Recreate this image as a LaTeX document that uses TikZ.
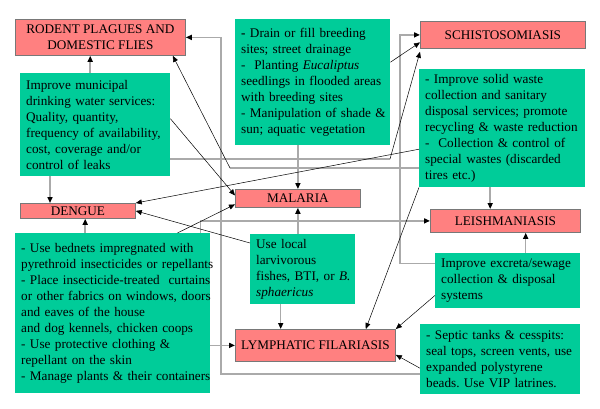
\documentclass[tikz,border=0pt]{standalone}
\usepackage{fontspec}
\setmainfont{Liberation Serif}
\usetikzlibrary{arrows.meta}
\definecolor{pinkbox}{RGB}{255,128,128}
\definecolor{greenbox}{RGB}{0,204,153}
\definecolor{boxline}{RGB}{120,120,120}
\definecolor{linkgray}{RGB}{170,170,170}
\begin{document}
\begin{tikzpicture}[x=1pt,y=-1pt,
    disease/.style={draw=boxline,line width=0.8pt,fill=pinkbox,anchor=north west,inner sep=0pt,
      align=center,font=\fontsize{13.2}{15.5}\selectfont},
    action/.style={fill=greenbox,anchor=north west,inner xsep=6pt,inner ysep=0pt,align=left,
      font=\fontsize{13.2}{16}\selectfont},
    glink/.style={draw=linkgray,line width=1.5pt},
    garrow/.style={glink,-{Triangle[length=6pt,width=5pt,color=black]}},
    tarrow/.style={draw=black,line width=0.5pt,-{Triangle[length=6pt,width=5pt]}}]
\useasboundingbox (0,0) rectangle (600,408);
% diseases
\node[disease,minimum width=170pt,minimum height=36pt] (rodent) at (15,19) {RODENT PLAGUES AND\\DOMESTIC FLIES};
\node[disease,minimum width=165pt,minimum height=27pt] (schisto) at (420,21) {SCHISTOSOMIASIS};
\node[disease,minimum width=115pt,minimum height=15pt] (dengue) at (20,203) {DENGUE};
\node[disease,minimum width=125pt,minimum height=18pt] (malaria) at (235,189) {MALARIA};
\node[disease,minimum width=150pt,minimum height=23pt] (leish) at (430,209) {LEISHMANIASIS};
\node[disease,minimum width=160pt,minimum height=32pt] (filaria) at (235,329) {LYMPHATIC FILARIASIS};
% interventions
\node[action,text width=138pt,minimum height=103pt] (water) at (20,73) {Improve municipal\\drinking water services:\\Quality, quantity,\\frequency of availability,\\cost, coverage and/or\\control of leaks};
\node[action,text width=143pt,minimum height=126pt] (drain) at (235,19) {\textbf{-} Drain or fill breeding\\sites; street drainage\\-\ \ Planting \textit{Eucaliptus}\\\mbox{seedlings in flooded areas}\\with breeding sites\\\mbox{- Manipulation of shade \&}\\sun; aquatic vegetation};
\node[action,text width=154pt,minimum height=118pt] (waste) at (419,69) {- Improve solid waste\\collection and sanitary\\\mbox{disposal services; promote}\\\mbox{recycling \& waste reduction}\\-\ \ Collection \& control of\\special wastes (discarded\\tires etc.)};
\node[action,text width=183pt,minimum height=160pt] (bednets) at (15,233) {- Use bednets impregnated with\\\mbox{pyrethroid insecticides or repellants}\\\mbox{- Place insecticide-treated\ \ curtains}\\\mbox{or other fabrics on windows, doors}\\and eaves of the house\\and dog kennels, chicken coops\\- Use protective clothing \&\\repellant on the skin\\\mbox{- Manage plants \& their containers}};
\node[action,text width=93pt,minimum height=70pt] (fishes) at (250,234) {Use local\\larvivorous\\\mbox{fishes, BTI, or \textit{B.}}\\\textit{sphaericus}};
\node[action,text width=133pt,minimum height=55pt] (excreta) at (435,253) {\mbox{Improve excreta/sewage}\\collection \& disposal\\systems};
\node[action,text width=148pt,minimum height=70pt] (septic) at (420,324) {- Septic tanks \& cesspits:\\\mbox{seal tops, screen vents, use}\\expanded polystyrene\\beads.\ Use VIP latrines.};
% grey elbow links
\draw[garrow] ([yshift=-15]septic.west) -| ([xshift=35]rodent.east) -- (rodent.east);
\draw[garrow] ([xshift=-10]bednets.north east) |- (leish.west);
\draw[garrow] ([yshift=17]excreta.west) -| ([xshift=-20]schisto.west) -- (schisto.west);
\coordinate (wbend) at (390,159);
\coordinate (rbend) at (230,168);
\draw[glink] (water.east |- wbend) -- (wbend);
\draw[glink] (waste.west |- rbend) -- (rbend);
% grey straight links
\draw[garrow] ([xshift=-5]water.north) -- ([xshift=-5]water.north |- rodent.south);
\draw[garrow] ([xshift=30]water.south west) -- ([xshift=30]water.south west |- dengue.north);
\draw[garrow] (malaria.north |- drain.south) -- (malaria.north);
\draw[garrow] (malaria.south |- fishes.north) -- (malaria.south);
\draw[garrow] ([xshift=-22]fishes.south) -- ([xshift=-22]fishes.south |- filaria.north);
\draw[garrow] ([xshift=-27.5]bednets.north) -- ([xshift=-27.5]bednets.north |- dengue.south);
\draw[garrow] (bednets.east |- filaria.west) -- (filaria.west);
\draw[garrow] ([xshift=-12]waste.south) -- ([xshift=-12]waste.south |- leish.north);
\draw[garrow] ([xshift=18]excreta.north) -- ([xshift=18]excreta.north |- leish.south);
% thin links
\draw[tarrow] (wbend) -- ([yshift=-3]schisto.south west);
\draw[tarrow] (rbend) -- ([xshift=-13]rodent.south east);
\draw[tarrow] ([yshift=6]water.east) -- ([yshift=3]malaria.west);
\draw[tarrow] ([yshift=20]drain.east) -- ([yshift=-7.5]schisto.west);
\draw[tarrow] ([yshift=-21]waste.west) -- (dengue.north east);
\draw[tarrow] (waste.south west) -- ([xshift=-30]filaria.north east);
\draw[tarrow] ([yshift=-9]fishes.north west) -- (dengue.east);
\draw[tarrow] ([xshift=-33]bednets.north east) -- ([yshift=-6]malaria.west);
\draw[tarrow] ([yshift=13]excreta.south west) -- (filaria.north east);
\draw[tarrow] ([yshift=-9]septic.west) -- ([yshift=7]filaria.south east);
\end{tikzpicture}
\end{document}
